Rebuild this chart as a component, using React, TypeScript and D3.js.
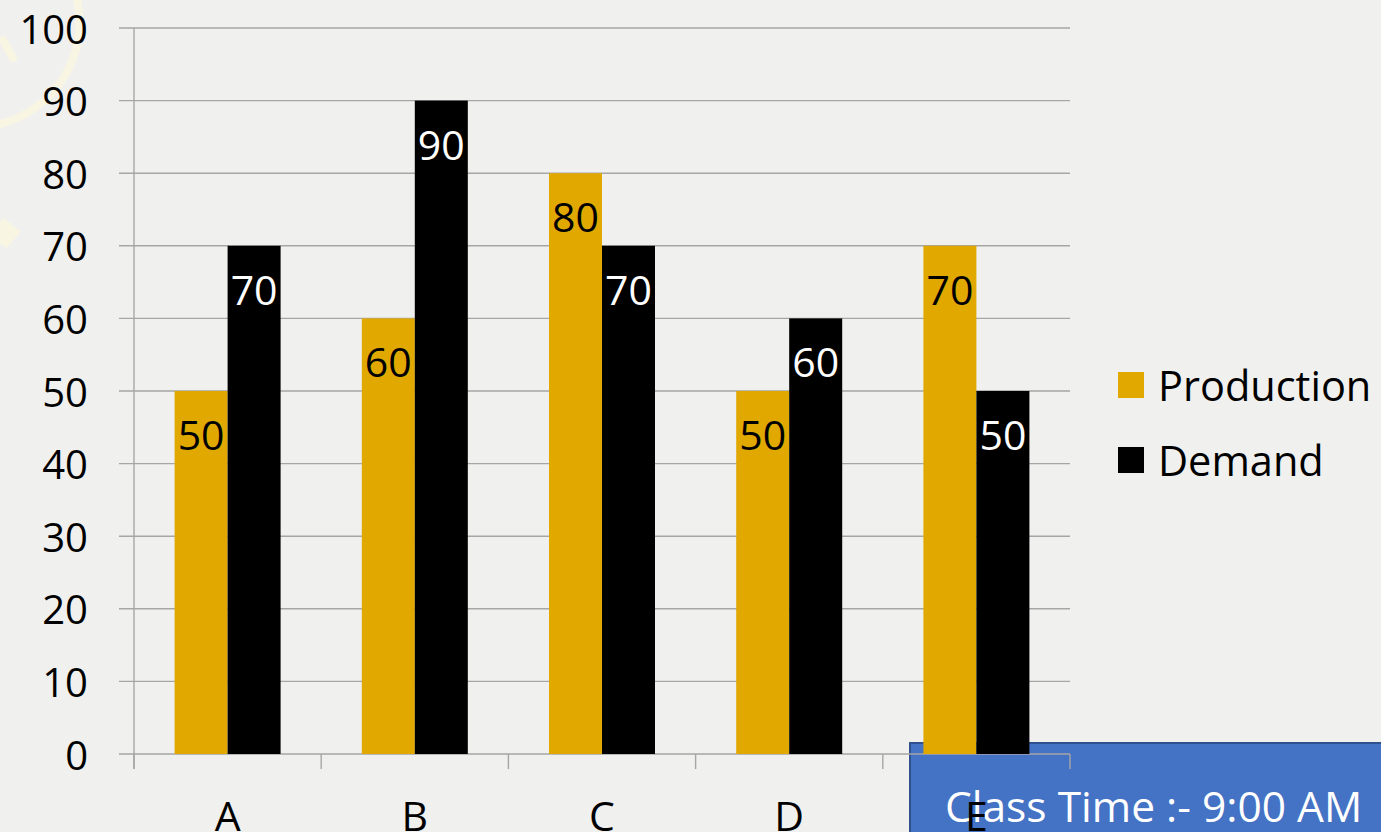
import * as d3 from "d3"

const categories = ["A", "B", "C", "D", "E"]
const seriesNames = ["Production", "Demand"]
const production = [50, 60, 80, 50, 70]
const demand = [70, 90, 70, 60, 50]
const yTicks = [0, 10, 20, 30, 40, 50, 60, 70, 80, 90, 100]
const noteText = "Class Time :- 9:00 AM"

const W = 1381
const H = 832
const FONT = "'Open Sans', 'Noto Sans', sans-serif"
const colors = ["#E1A900", "#000000"]
const labelColors = ["#000000", "#FFFFFF"]

export default function App() {
  const margin = { top: 28, left: 134, right: 1070, bottom: 754 }

  // scales
  const x0 = d3.scaleBand<string>().domain(categories).range([margin.left, margin.right]).padding(0)
  const x1 = d3.scaleBand<string>().domain(seriesNames).range([0, x0.bandwidth()]).paddingInner(0).paddingOuter(0.766)
  const y = d3.scaleLinear().domain([0, 100]).range([margin.bottom, margin.top])

  const values = [production, demand]
  const bars = categories.flatMap((c, i) =>
    seriesNames.map((s, j) => ({ c, s, j, v: values[j][i] }))
  )

  const tickXs = [margin.left, ...categories.map(c => (x0(c) as number) + x0.bandwidth())]

  return (
    <div style={{ position: "absolute", left: 0, top: 0, width: W, height: H, overflow: "hidden" }}>
      <svg width={W} height={H} style={{ display: "block", fontFamily: FONT }}>
        <rect width={W} height={H} fill="#F0F0EF" />

        {/* faint watermark */}
        <g fill="none" stroke="#F9F5E3" strokeWidth={8} strokeLinecap="round">
          <path d="M 76 -5 A 105 105 0 0 1 0 124" />
          <path d="M 3 40 L 13 58" />
        </g>
        <rect x={-6} y={222} width={22} height={22} fill="#F9F5E3" transform="rotate(40 5 233)" />

        {/* note box */}
        <rect x={910} y={743} width={500} height={120} fill="#4472C4" stroke="#2F528F" strokeWidth={2} />
        <text x={945} y={805} dominantBaseline="central" fill="#FFFFFF" fontSize={42.5}>{noteText}</text>

        {/* gridlines */}
        {yTicks.map(t => (
          <line key={t} x1={119} x2={margin.right} y1={y(t)} y2={y(t)} stroke="#A6A6A6" strokeWidth={1.4} />
        ))}
        <line x1={margin.left} x2={margin.left} y1={margin.top} y2={margin.bottom + 15} stroke="#A6A6A6" strokeWidth={1.4} />
        {tickXs.map((tx, i) => (
          <line key={i} x1={tx} x2={tx} y1={margin.bottom} y2={margin.bottom + 15} stroke="#A6A6A6" strokeWidth={1.4} />
        ))}

        {/* y labels */}
        {yTicks.map(t => (
          <text key={t} x={88} y={y(t)} textAnchor="end" dominantBaseline="central" fontSize={40} fill="#000">{t}</text>
        ))}

        {/* bars */}
        {bars.map(b => {
          const bx = (x0(b.c) as number) + (x1(b.s) as number)
          return (
            <g key={b.c + b.s}>
              <rect x={bx} y={y(b.v)} width={x1.bandwidth()} height={y(0) - y(b.v)} fill={colors[b.j]} />
              <text x={bx + x1.bandwidth() / 2} y={y(b.v) + 59} textAnchor="middle" fontSize={41} fill={labelColors[b.j]}>{b.v}</text>
            </g>
          )
        })}

        {/* x labels */}
        {categories.map(c => (
          <text key={c} x={(x0(c) as number) + x0.bandwidth() / 2} y={831} textAnchor="middle" fontSize={41} fill="#000">{c}</text>
        ))}

        {/* legend */}
        {seriesNames.map((s, i) => (
          <g key={s} transform={`translate(1118, ${372 + i * 75})`}>
            <rect width={26} height={26} fill={colors[i]} />
            <text x={40} y={13} dominantBaseline="central" fontSize={41.5} fill="#000">{s}</text>
          </g>
        ))}
      </svg>
    </div>
  )
}
